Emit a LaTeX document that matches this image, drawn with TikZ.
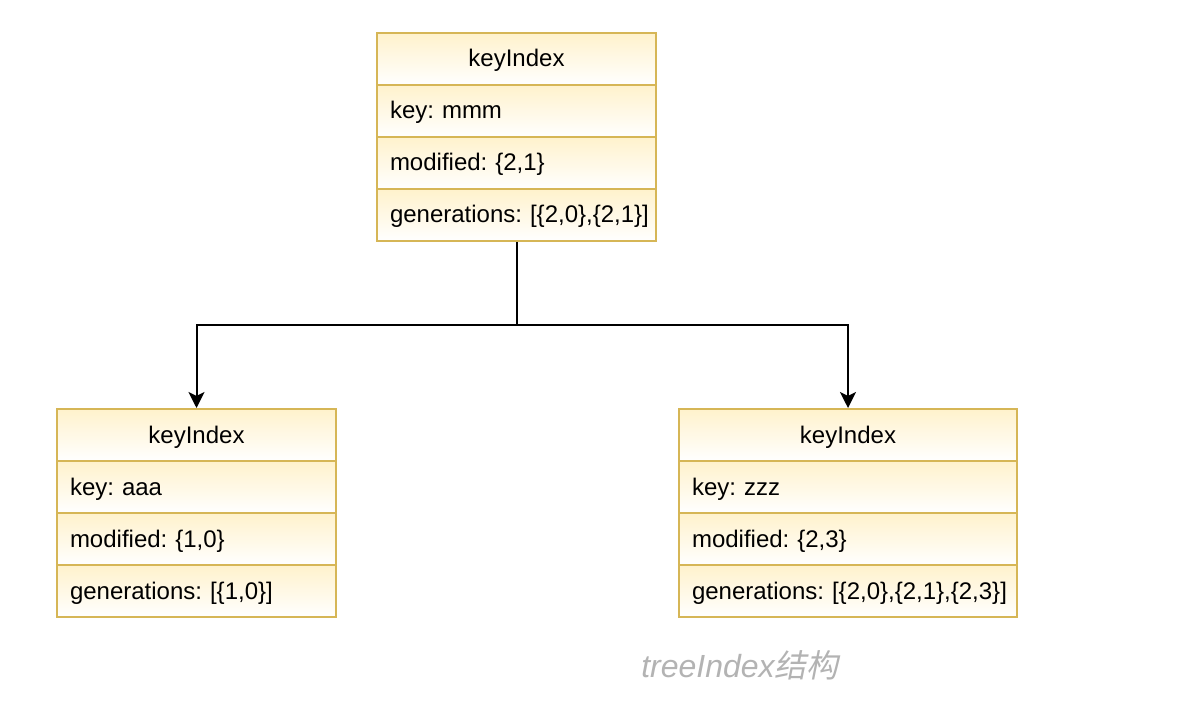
\documentclass[tikz,border=0pt]{standalone}
\usepackage{fontspec}
\setmainfont{Liberation Sans}
\newfontfamily\cjk[FakeSlant=0.2]{Noto Sans CJK SC}
\usetikzlibrary{arrows.meta,calc}
\definecolor{strokeC}{HTML}{D6B656}
\definecolor{fillC}{HTML}{FFF2CC}
\definecolor{capC}{HTML}{B3B3B3}
\frenchspacing
\begin{document}
\begin{tikzpicture}[x=1pt,y=-1pt,
  row/.style={draw=strokeC, line width=2pt, top color=fillC, bottom color=white,
    minimum height=52pt, inner xsep=0pt, inner ysep=0pt, anchor=north west,
    font=\fontsize{24}{28}\selectfont\frenchspacing, text height=19pt, text depth=3pt},
  titlerow/.style={row, align=center},
  itemrow/.style={row, align=left, execute at begin node={\hspace*{13pt}}},
  arr/.style={line width=2pt, -{Stealth[length=16pt,width=16pt,inset=4pt]}}]
\useasboundingbox[fill=white] (0,0) rectangle (1196,708);
% top
\node[titlerow, text width=279pt] (t0) at (376,32) {keyIndex};
\node[itemrow, text width=279pt] (t1) at (376,84) {key: mmm};
\node[itemrow, text width=279pt] (t2) at (376,136) {modified: \{2,1\}};
\node[itemrow, text width=279pt] (t3) at (376,188) {generations: [\{2,0\},\{2,1\}]};
% left
\node[titlerow, text width=279pt] (l0) at (56,408) {keyIndex};
\node[itemrow, text width=279pt] (l1) at (56,460) {key: aaa};
\node[itemrow, text width=279pt] (l2) at (56,512) {modified: \{1,0\}};
\node[itemrow, text width=279pt] (l3) at (56,564) {generations: [\{1,0\}]};
% right
\node[titlerow, text width=338pt] (r0) at (678,408) {keyIndex};
\node[itemrow, text width=338pt] (r1) at (678,460) {key: zzz};
\node[itemrow, text width=338pt] (r2) at (678,512) {modified: \{2,3\}};
\node[itemrow, text width=338pt] (r3) at (678,564) {generations: [\{2,0\},\{2,1\},\{2,3\}]};
% connectors
\coordinate (j) at ($(t3.south)+(0,83)$);
\draw[line width=2pt] (t3.south) -- (j);
\draw[arr] (j) -| (l0.north);
\draw[arr] (j) -| (r0.north);
% caption
\node[text=capC, font=\fontsize{32}{36}\selectfont\itshape] (cap) at (740,665) {treeIndex{\cjk 结构}};
\end{tikzpicture}
\end{document}
